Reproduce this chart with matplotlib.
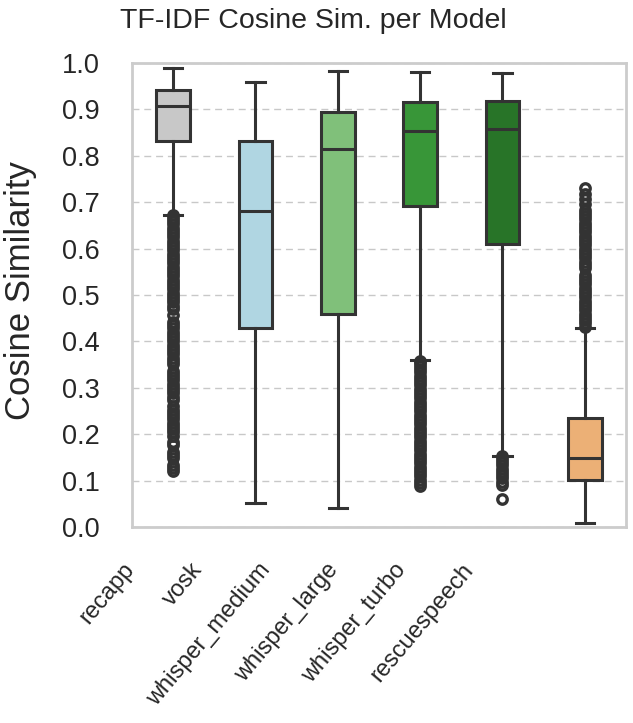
import matplotlib
matplotlib.use('Agg')
import matplotlib.pyplot as plt
from matplotlib.transforms import ScaledTranslation

plt.rcParams['font.family'] = ['Liberation Sans', 'DejaVu Sans']

# models and their box stats
models = ['recapp', 'vosk', 'whisper_medium', 'whisper_large', 'whisper_turbo', 'rescuespeech']
colors = ['#c8c8c8', '#b0d6e2', '#80c07a', '#389638', '#287428', '#ecb076']
medians = [0.908, 0.682, 0.814, 0.853, 0.858, 0.148]
q1 = [0.831, 0.429, 0.460, 0.692, 0.610, 0.101]
q3 = [0.942, 0.831, 0.894, 0.916, 0.917, 0.235]
whis_lo = [0.673, 0.052, 0.042, 0.359, 0.153, 0.009]
whis_hi = [0.990, 0.960, 0.982, 0.980, 0.978, 0.428]

# outliers (dense columns in the picture)
fliers_recapp = [0.120, 0.127, 0.134, 0.148, 0.155, 0.162, 0.176, 0.183, 0.197, 0.204,
                 0.211, 0.218, 0.225, 0.232, 0.239, 0.246, 0.253, 0.260, 0.274, 0.281,
                 0.288, 0.295, 0.302, 0.309, 0.316, 0.323, 0.330, 0.337, 0.351, 0.358,
                 0.365, 0.372, 0.379, 0.386, 0.393, 0.400, 0.407, 0.414, 0.421, 0.428,
                 0.435, 0.442, 0.456, 0.470, 0.477, 0.484, 0.491, 0.498, 0.505, 0.512,
                 0.519, 0.526, 0.533, 0.540, 0.547, 0.554, 0.561, 0.568, 0.575, 0.582,
                 0.589, 0.596, 0.603, 0.610, 0.617, 0.624, 0.631, 0.638, 0.645, 0.652,
                 0.659, 0.666, 0.672]
fliers_large = [0.088, 0.095, 0.102, 0.109, 0.116, 0.123, 0.130, 0.137, 0.144, 0.151,
                0.158, 0.165, 0.172, 0.179, 0.186, 0.193, 0.200, 0.207, 0.214, 0.221,
                0.228, 0.235, 0.242, 0.249, 0.256, 0.263, 0.270, 0.277, 0.284, 0.291,
                0.298, 0.305, 0.312, 0.319, 0.326, 0.333, 0.340, 0.347, 0.354, 0.358]
fliers_turbo = [0.061, 0.091, 0.098, 0.105, 0.112, 0.119, 0.126, 0.133, 0.140, 0.147, 0.152]
fliers_rescue = [0.432, 0.439, 0.446, 0.453, 0.460, 0.467, 0.474, 0.481, 0.488, 0.495,
                 0.502, 0.509, 0.516, 0.523, 0.530, 0.537, 0.544, 0.558, 0.565, 0.572,
                 0.579, 0.586, 0.593, 0.600, 0.607, 0.614, 0.621, 0.628, 0.635, 0.642,
                 0.649, 0.656, 0.663, 0.670, 0.677, 0.684, 0.696, 0.706, 0.718, 0.730]
fliers = [fliers_recapp, [], [], fliers_large, fliers_turbo, fliers_rescue]

stats = []
for i, name in enumerate(models):
    stats.append({'label': name, 'med': medians[i], 'q1': q1[i], 'q3': q3[i],
                  'whislo': whis_lo[i], 'whishi': whis_hi[i], 'fliers': fliers[i]})

fig = plt.figure(figsize=(6.33, 7.23), dpi=100)
ax = fig.add_axes([0.2085, 0.2711, 0.7804, 0.6418])

edge = '#333333'
lw = 2.2
bp = ax.bxp(stats, positions=range(len(models)), widths=0.41, capwidths=0.22,
            patch_artist=True, showfliers=True,
            boxprops=dict(edgecolor=edge, linewidth=lw),
            medianprops=dict(color=edge, linewidth=lw),
            whiskerprops=dict(color=edge, linewidth=lw),
            capprops=dict(color=edge, linewidth=lw),
            flierprops=dict(marker='o', markersize=6.8, markerfacecolor='none',
                            markeredgecolor=edge, markeredgewidth=2.4))
for patch, c in zip(bp['boxes'], colors):
    patch.set_facecolor(c)

ax.set_xlim(-0.5, len(models) - 0.5)
ax.set_ylim(0, 1)
ax.set_yticks([i / 10 for i in range(11)])
ax.set_yticklabels([f'{i / 10:.1f}' for i in range(11)], fontsize=19.5)
ax.set_xticks(range(len(models)))
ax.set_xticklabels(models, rotation=50, ha='right', fontsize=17)
ax.tick_params(axis='both', length=0, pad=23, colors='#262626')

# grid + frame
ax.set_axisbelow(True)
ax.yaxis.grid(True, linestyle=(0, (5, 3.5)), color='#c8c8c8', linewidth=1.0)
ax.xaxis.grid(False)
for s in ax.spines.values():
    s.set_color('#cccccc')
    s.set_linewidth(2.0)

# shift the rotated labels to where they sit in the reference
for i, lbl in enumerate(ax.get_xticklabels()):
    dx = -(34 + 14.5 * i) / 100
    lbl.set_transform(lbl.get_transform() + ScaledTranslation(dx, 0.0, fig.dpi_scale_trans))

ax.set_ylabel('Cosine Similarity', fontsize=25, color='#262626')
ax.yaxis.set_label_coords(-0.192, 0.509)
fig.text(313 / 633, 1 - 28 / 723, 'TF-IDF Cosine Sim. per Model', fontsize=20.5,
         ha='center', va='baseline', color='#262626')

fig.savefig('out.png', dpi=100, facecolor='white')
